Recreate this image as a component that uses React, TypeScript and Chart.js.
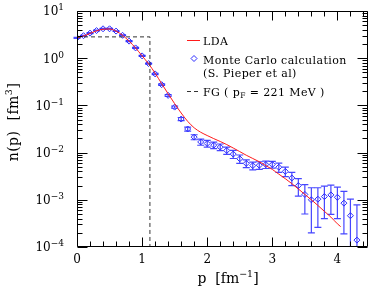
import React, { useEffect, useRef } from "react";
import { Chart, registerables } from "chart.js";
Chart.register(...registerables);

// ---- data ----
const MC_P = [0, 0.1, 0.2, 0.3, 0.4, 0.5, 0.6, 0.7, 0.8, 0.9, 1.0, 1.1, 1.2, 1.3, 1.4, 1.5, 1.6, 1.7, 1.8, 1.9, 2.0, 2.1, 2.2, 2.3, 2.4, 2.5, 2.6, 2.7, 2.8, 2.9, 3.0, 3.1, 3.2, 3.3, 3.4, 3.5, 3.6, 3.7, 3.8, 3.9, 4.0, 4.1, 4.2, 4.3];
const MC_N = [2.7, 3.0, 3.4, 3.85, 4.2, 4.2, 3.75, 3.05, 2.3, 1.65, 1.12, 0.77, 0.465, 0.275, 0.163, 0.092, 0.0514, 0.0316, 0.0213, 0.0168, 0.0156, 0.0144, 0.0131, 0.0111, 0.0093, 0.0074, 0.0059, 0.0053, 0.0054, 0.0056, 0.0056, 0.0049, 0.004, 0.0029, 0.002, 0.0013, 0.001, 0.00103, 0.00117, 0.00127, 0.00113, 0.00085, 0.00046, 0.00014];
const MC_ERR = [0.06, 0.06, 0.07, 0.08, 0.08, 0.08, 0.07, 0.06, 0.05, 0.04, 0.03, 0.02, 0.015, 0.01, 0.007, 0.005, 0.004, 0.003, 0.0026, 0.0025, 0.0025, 0.0023, 0.0021, 0.0019, 0.0018, 0.0015, 0.0011, 0.001, 0.001, 0.001, 0.0009, 0.0011, 0.0009, 0.0009, 0.0008, 0.0008, 0.0008, 0.00077, 0.00077, 0.00078, 0.00073, 0.00066, 0.00057, 0.00064];

const LDA_P = [0, 0.1, 0.2, 0.3, 0.4, 0.5, 0.6, 0.7, 0.8, 0.9, 1.0, 1.1, 1.2, 1.3, 1.4, 1.5, 1.6, 1.7, 1.8, 1.9, 2.0, 2.1, 2.2, 2.3, 2.4, 2.5, 2.6, 2.7, 2.8, 2.9, 3.0, 3.1, 3.2, 3.3, 3.4, 3.5, 3.6, 3.7, 3.8, 3.9, 4.0, 4.05];
const LDA_N = [2.7, 2.95, 3.35, 3.8, 4.1, 4.15, 3.75, 3.05, 2.3, 1.65, 1.12, 0.76, 0.48, 0.29, 0.176, 0.109, 0.069, 0.046, 0.0335, 0.027, 0.023, 0.0198, 0.0172, 0.0148, 0.0125, 0.0105, 0.0088, 0.0075, 0.0064, 0.0053, 0.0044, 0.0035, 0.0028, 0.0022, 0.0017, 0.0013, 0.001, 0.00076, 0.00057, 0.00043, 0.00031, 0.00027];

const FG_P = [0, 1.12, 1.12];
const FG_N = [2.83, 2.83, 1e-4];

const X_MIN = 0;
const X_MAX = 4.47;
const Y_MIN = 1e-4;
const Y_MAX = 10;
const X_TICKS = [0, 1, 2, 3, 4];
const X_TICK_LABELS = ["0", "1", "2", "3", "4"];
const Y_TICK_EXP = [1, 0, -1, -2, -3, -4];
const Y_TICK_LABELS = ["1", "0", "\u22121", "\u22122", "\u22123", "\u22124"];

const LEGEND_LDA = "LDA";
const LEGEND_MC1 = "Monte Carlo calculation";
const LEGEND_MC2 = "(S. Pieper et al)";
const LEGEND_FG: [string, string, string] = ["FG ( p", "F", " = 221 MeV )"];

const FONT = '"DejaVu Serif", serif';
const RED = "#ff1a1a";
const BLUE = "#2a2aff";
const BAR_BLUE = "#4646ff";

type Part = [string, number, number];

function drawRich(ctx: CanvasRenderingContext2D, parts: Part[], x: number, y: number, align: "left" | "right" | "center", spacing = 0) {
  (ctx as any).letterSpacing = `${spacing}px`;
  let w = 0;
  for (const [t, s] of parts) {
    ctx.font = `${s}px ${FONT}`;
    w += ctx.measureText(t).width;
  }
  let cx = align === "right" ? x - w : align === "center" ? x - w / 2 : x;
  ctx.textAlign = "left";
  ctx.textBaseline = "alphabetic";
  for (const [t, s, dy] of parts) {
    ctx.font = `${s}px ${FONT}`;
    ctx.fillText(t, cx, y + dy);
    cx += ctx.measureText(t).width;
  }
  (ctx as any).letterSpacing = "0px";
}

const errorBars = {
  id: "errorBars",
  beforeDatasetsDraw(chart: any) {
    const ctx = chart.ctx as CanvasRenderingContext2D;
    const xs = chart.scales.x;
    const ys = chart.scales.y;
    const a = chart.chartArea;
    ctx.save();
    ctx.strokeStyle = BAR_BLUE;
    ctx.lineWidth = 1.2;
    for (let i = 0; i < MC_P.length; i++) {
      const px = xs.getPixelForValue(MC_P[i]);
      const hi = MC_N[i] + MC_ERR[i];
      const lo = MC_N[i] - MC_ERR[i];
      const yt = ys.getPixelForValue(Math.min(hi, Y_MAX));
      const loClamped = lo <= Y_MIN;
      const yb = loClamped ? a.bottom : ys.getPixelForValue(lo);
      ctx.beginPath();
      ctx.moveTo(px, yt);
      ctx.lineTo(px, yb);
      ctx.moveTo(px - 3.5, yt);
      ctx.lineTo(px + 3.5, yt);
      if (!loClamped) {
        ctx.moveTo(px - 3.5, yb);
        ctx.lineTo(px + 3.5, yb);
      }
      ctx.stroke();
    }
    ctx.restore();
  },
};

const frame = {
  id: "frame",
  afterDraw(chart: any) {
    const ctx = chart.ctx as CanvasRenderingContext2D;
    const xs = chart.scales.x;
    const ys = chart.scales.y;
    const a = chart.chartArea;
    const L = Math.round(a.left) + 0.5;
    const R = Math.round(a.right) - 0.5;
    const T = Math.round(a.top) + 0.5;
    const B = Math.round(a.bottom) - 0.5;
    ctx.save();
    ctx.strokeStyle = "#000";
    ctx.lineWidth = 1;
    ctx.beginPath();
    ctx.rect(L, T, R - L, B - T);
    for (let v = 0; v <= X_MAX + 1e-9; v += 0.2) {
      const major = Math.abs(v - Math.round(v)) < 1e-6;
      const len = major ? 9 : 5;
      const px = Math.round(xs.getPixelForValue(v)) + 0.5;
      ctx.moveTo(px, B);
      ctx.lineTo(px, B - len);
      ctx.moveTo(px, T);
      ctx.lineTo(px, T + len);
    }
    for (let e = -4; e <= 1; e++) {
      for (let m = 1; m <= 9; m++) {
        const v = m * Math.pow(10, e);
        if (v < Y_MIN * 0.999 || v > Y_MAX * 1.001) continue;
        const len = m === 1 ? 10 : 5;
        const py = Math.round(ys.getPixelForValue(v)) + 0.5;
        ctx.moveTo(L, py);
        ctx.lineTo(L + len, py);
        ctx.moveTo(R, py);
        ctx.lineTo(R - len, py);
      }
    }
    ctx.stroke();

    ctx.fillStyle = "#000";
    X_TICKS.forEach((v, i) => {
      drawRich(ctx, [[X_TICK_LABELS[i], 12, 0]], xs.getPixelForValue(v), 263, "center");
    });
    Y_TICK_EXP.forEach((e, i) => {
      const py = ys.getPixelForValue(Math.pow(10, e));
      drawRich(ctx, [["10", 12, 0], [Y_TICK_LABELS[i], 9, -5]], 64, py + 4.3, "right");
    });
    drawRich(ctx, [["p  [fm", 14, 0], ["\u22121", 9.5, -6], ["]", 14, 0]], 228, 283, "center");
    ctx.save();
    ctx.translate(18, 122);
    ctx.rotate(-Math.PI / 2);
    drawRich(ctx, [["n(p)  [fm", 14, 0], ["3", 9.5, -6], ["]", 14, 0]], 0, 0, "center", 0.5);
    ctx.restore();

    // legend
    ctx.strokeStyle = RED;
    ctx.lineWidth = 1;
    ctx.beginPath();
    ctx.moveTo(187, 40.5);
    ctx.lineTo(200, 40.5);
    ctx.stroke();
    drawRich(ctx, [[LEGEND_LDA, 11, 0]], 203, 45, "left", 0.4);

    ctx.strokeStyle = BLUE;
    ctx.beginPath();
    ctx.moveTo(194, 55.5);
    ctx.lineTo(197, 58.5);
    ctx.lineTo(194, 61.5);
    ctx.lineTo(191, 58.5);
    ctx.closePath();
    ctx.stroke();
    drawRich(ctx, [[LEGEND_MC1, 11, 0]], 203, 64, "left", 0.4);
    drawRich(ctx, [[LEGEND_MC2, 11, 0]], 203, 76.5, "left", 0.4);

    ctx.strokeStyle = "#333";
    ctx.setLineDash([4, 3]);
    ctx.beginPath();
    ctx.moveTo(187, 91.5);
    ctx.lineTo(201, 91.5);
    ctx.stroke();
    ctx.setLineDash([]);
    drawRich(ctx, [[LEGEND_FG[0], 11, 0], [LEGEND_FG[1], 7.5, 2.5], [LEGEND_FG[2], 11, 0]], 203, 95.5, "left", 0.4);
    ctx.restore();
  },
};

export default function App() {
  const ref = useRef<HTMLCanvasElement>(null);
  useEffect(() => {
    document.body.style.margin = "0";
    const canvas = ref.current!;
    const chart = new Chart(canvas, {
      type: "scatter",
      data: {
        datasets: [
          {
            label: "FG",
            data: FG_P.map((p, i) => ({ x: p, y: FG_N[i] })),
            showLine: true,
            borderColor: "#333",
            borderWidth: 1,
            borderDash: [4, 3],
            pointRadius: 0,
            tension: 0,
          },
          {
            label: "LDA",
            data: LDA_P.map((p, i) => ({ x: p, y: LDA_N[i] })),
            showLine: true,
            borderColor: RED,
            borderWidth: 1,
            pointRadius: 0,
            cubicInterpolationMode: "monotone",
          } as any,
          {
            label: "Monte Carlo",
            data: MC_P.map((p, i) => ({ x: p, y: MC_N[i] })),
            showLine: false,
            pointStyle: "rectRot",
            pointRadius: 3,
            borderColor: BLUE,
            borderWidth: 1,
            backgroundColor: "rgba(0,0,0,0)",
          },
        ],
      },
      options: {
        responsive: false,
        animation: false,
        events: [],
        layout: { padding: { top: 11, right: 5, left: 0, bottom: 0 } },
        plugins: { legend: { display: false }, tooltip: { enabled: false } },
        scales: {
          x: {
            type: "linear",
            min: X_MIN,
            max: X_MAX,
            ticks: { display: false },
            grid: { display: false, drawTicks: false },
            border: { display: false },
            afterFit: (s: any) => {
              s.height = 44;
            },
          },
          y: {
            type: "logarithmic",
            min: Y_MIN,
            max: Y_MAX,
            ticks: { display: false },
            grid: { display: false, drawTicks: false },
            border: { display: false },
            afterFit: (s: any) => {
              s.width = 77;
            },
          },
        },
      },
      plugins: [errorBars, frame],
    });
    return () => chart.destroy();
  }, []);
  return (
    <div style={{ position: "fixed", left: 0, top: 0, width: 373, height: 291, background: "#fff" }}>
      <canvas ref={ref} width={373} height={291} style={{ width: 373, height: 291, display: "block" }} />
    </div>
  );
}
